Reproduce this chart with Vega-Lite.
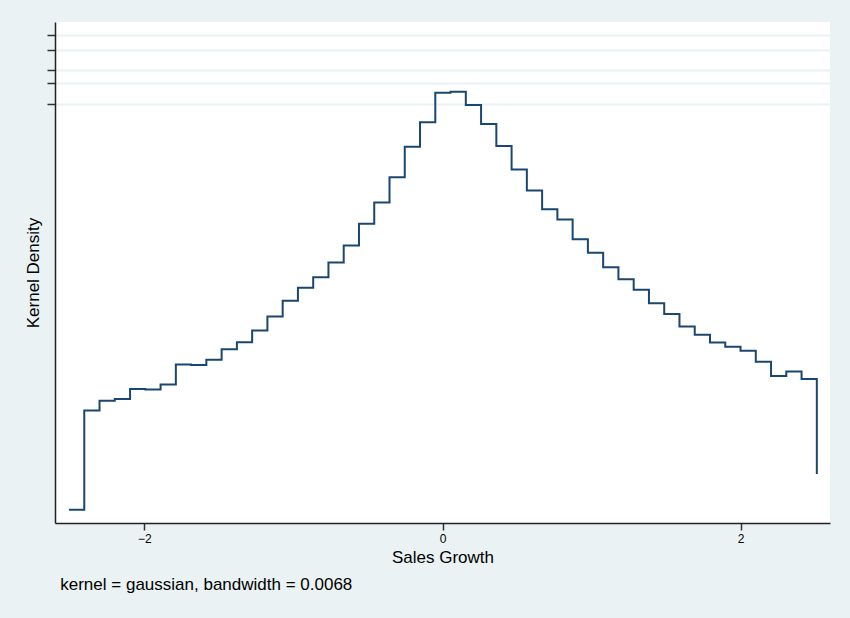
{
  "$schema": "https://vega.github.io/schema/vega-lite/v6.json",
  "width": 775,
  "height": 501,
  "autosize": {"type": "none"},
  "padding": {"left": 55, "top": 22, "right": 20, "bottom": 95},
  "background": "#eaf2f3",
  "view": {"fill": "white", "stroke": null},
  "config": {"font": "Liberation Sans"},
  "title": {
    "text": "kernel = gaussian, bandwidth = 0.0068",
    "orient": "bottom",
    "anchor": "start",
    "fontSize": 17,
    "fontWeight": "normal",
    "font": "Liberation Sans",
    "color": "black",
    "offset": 12,
    "dx": 36
  },
  "data": {
    "values": [
      {"x": -2.506, "density": 0.0133},
      {"x": -2.4036, "density": 0.1126},
      {"x": -2.3012, "density": 0.1223},
      {"x": -2.1988, "density": 0.124},
      {"x": -2.0964, "density": 0.134},
      {"x": -1.994, "density": 0.1336},
      {"x": -1.8916, "density": 0.1386},
      {"x": -1.7892, "density": 0.1586},
      {"x": -1.6868, "density": 0.158},
      {"x": -1.5844, "density": 0.1633},
      {"x": -1.482, "density": 0.1738},
      {"x": -1.3796, "density": 0.1808},
      {"x": -1.2772, "density": 0.1926},
      {"x": -1.1748, "density": 0.2066},
      {"x": -1.0724, "density": 0.2223},
      {"x": -0.97, "density": 0.2353},
      {"x": -0.8676, "density": 0.246},
      {"x": -0.7652, "density": 0.2606},
      {"x": -0.6628, "density": 0.2776},
      {"x": -0.5604, "density": 0.2995},
      {"x": -0.458, "density": 0.3208},
      {"x": -0.3556, "density": 0.346},
      {"x": -0.2532, "density": 0.3766},
      {"x": -0.1508, "density": 0.401},
      {"x": -0.0484, "density": 0.4306},
      {"x": 0.054, "density": 0.4316},
      {"x": 0.1564, "density": 0.4183},
      {"x": 0.2588, "density": 0.3993},
      {"x": 0.3612, "density": 0.3773},
      {"x": 0.4636, "density": 0.3536},
      {"x": 0.566, "density": 0.3326},
      {"x": 0.6684, "density": 0.314},
      {"x": 0.7708, "density": 0.3036},
      {"x": 0.8732, "density": 0.284},
      {"x": 0.9756, "density": 0.2703},
      {"x": 1.078, "density": 0.256},
      {"x": 1.1804, "density": 0.244},
      {"x": 1.2828, "density": 0.2333},
      {"x": 1.3852, "density": 0.2198},
      {"x": 1.4876, "density": 0.2091},
      {"x": 1.59, "density": 0.1966},
      {"x": 1.6924, "density": 0.1883},
      {"x": 1.7948, "density": 0.1806},
      {"x": 1.8972, "density": 0.1763},
      {"x": 1.9996, "density": 0.1723},
      {"x": 2.102, "density": 0.1613},
      {"x": 2.2044, "density": 0.147},
      {"x": 2.3068, "density": 0.1516},
      {"x": 2.4092, "density": 0.144},
      {"x": 2.5116, "density": 0.049}
    ]
  },
  "mark": {"type": "line", "interpolate": "step-after", "color": "#1a476f", "strokeWidth": 2},
  "encoding": {
    "x": {
      "field": "x",
      "type": "quantitative",
      "scale": {"domain": [-2.6, 2.6], "nice": false, "zero": false},
      "axis": {
        "values": [-2, 0, 2],
        "grid": false,
        "title": "Sales Growth",
        "titleFontSize": 17,
        "titleFontWeight": "normal",
        "titleColor": "black",
        "titlePadding": 5,
        "labelFontSize": 12,
        "labelColor": "black",
        "labelPadding": 3,
        "tickSize": 7,
        "tickColor": "#333333",
        "tickWidth": 1.5,
        "domainColor": "#222222",
        "domainWidth": 1.5
      }
    },
    "y": {
      "field": "density",
      "type": "quantitative",
      "scale": {"domain": [0, 0.5013], "nice": false, "zero": false},
      "axis": {
        "values": [0.4193, 0.44, 0.4533, 0.4733, 0.4883],
        "labels": false,
        "grid": true,
        "gridColor": "#eaf2f3",
        "gridWidth": 2,
        "title": "Kernel Density",
        "titleFontSize": 17,
        "titleFontWeight": "normal",
        "titleColor": "black",
        "titlePadding": 4,
        "tickSize": 8,
        "tickColor": "#333333",
        "tickWidth": 1.5,
        "domainColor": "#222222",
        "domainWidth": 1.5
      }
    }
  }
}
